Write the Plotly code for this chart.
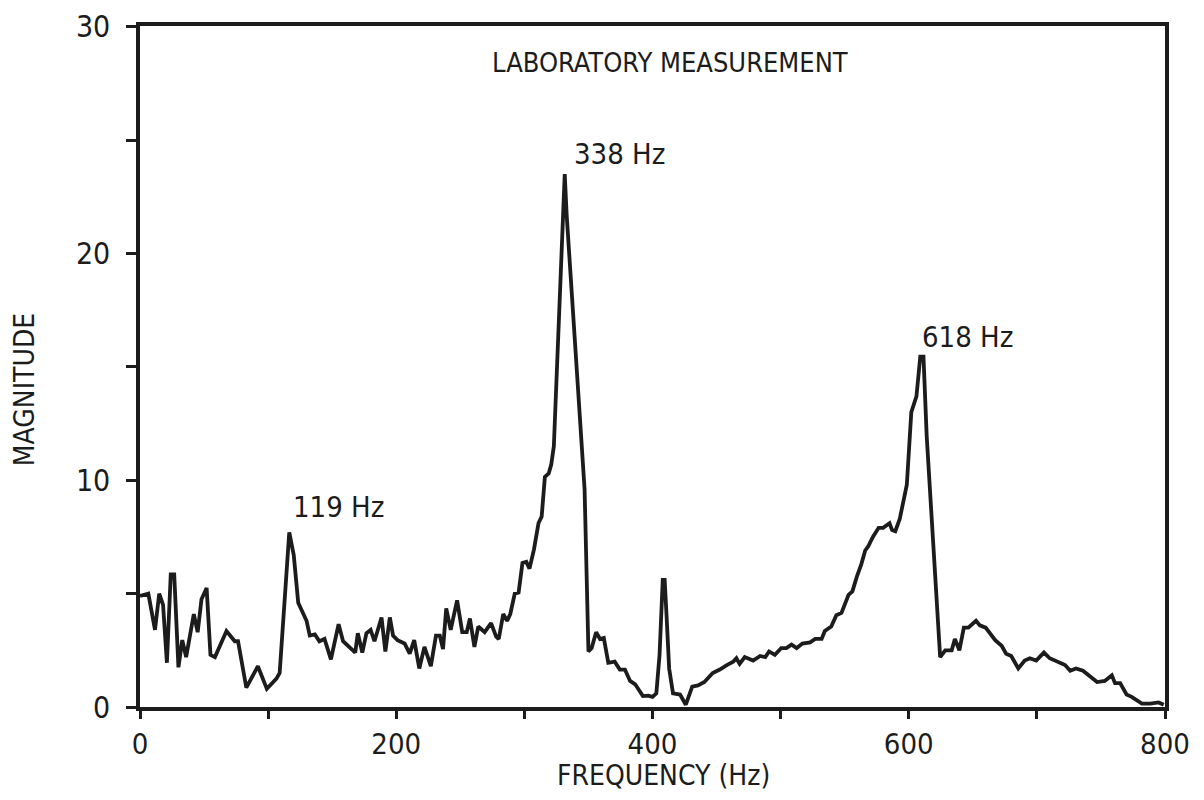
import plotly.graph_objects as go

# Frequency (Hz) and magnitude
freq = [0, 6.5, 11.7, 15, 18, 21, 24, 26.7, 30, 33, 36, 42, 45, 48, 52, 55, 58.5, 67.5, 74, 76.5,
        83, 92, 99, 106.5, 109, 116.5, 120, 123.5, 130, 132.5, 136.5, 140, 144, 149, 155, 158.5,
        168, 170, 173.5, 176.7, 180, 183, 188.5, 191.5, 195, 197.5, 201, 206.5, 210.5, 214, 218,
        222, 227, 231, 234, 236.5, 239, 242.5, 247.5, 251.5, 255, 257.5, 261, 264, 269, 274, 278,
        280, 283.5, 286.5, 289, 292.5, 295.5, 298.5, 301.5, 304, 307.5, 311, 313.5, 316, 319, 321,
        323, 331.5, 333, 343.5, 347, 350, 352.5, 356, 359, 362, 365.5, 370.5, 374.5, 378.5, 382.5,
        386.5, 389.5, 392.5, 396.5, 400, 403, 405.5, 408, 409.5, 411, 413, 416, 421.5, 426, 431,
        435.5, 440.5, 447, 452.5, 458, 463, 465.5, 468, 472, 478.5, 484, 488, 491, 495.5, 500.5,
        504.5, 508.5, 512.5, 517, 523, 527, 532, 534.5, 539.5, 543.5, 547.5, 553, 556, 559.5, 563,
        566, 568.5, 572, 576.5, 580, 585, 587, 589.5, 593, 598.5, 602, 606, 609, 611.5, 614, 624.5,
        628.5, 633.5, 636, 639.5, 643, 646.5, 652.5, 655.5, 660, 667.5, 672.5, 676, 680, 685.5,
        690.5, 694.5, 699.5, 705.5, 710, 715.5, 722, 726, 730.5, 736, 741.5, 747, 753, 758.5, 761,
        765, 770, 774, 782, 788.5, 795, 799]
magnitude = [4.9, 5.0, 3.4, 5.0, 4.5, 1.95, 5.85, 5.85, 1.75, 2.95, 2.2, 4.1, 3.3, 4.75, 5.25, 2.3,
             2.2, 3.35, 2.9, 2.9, 0.85, 1.8, 0.8, 1.25, 1.5, 7.7, 6.7, 4.6, 3.8, 3.15, 3.2, 2.9, 3.0,
             2.1, 3.65, 2.9, 2.4, 3.25, 2.4, 3.25, 3.4, 2.9, 3.95, 2.45, 3.95, 3.15, 2.95, 2.8, 2.35,
             2.95, 1.7, 2.65, 1.8, 3.15, 3.15, 2.55, 4.35, 3.4, 4.7, 3.3, 3.3, 3.9, 2.65, 3.55, 3.3,
             3.7, 3.1, 3.0, 4.1, 3.8, 4.1, 5.0, 5.05, 6.35, 6.4, 6.1, 6.95, 8.1, 8.4, 10.15, 10.3,
             10.7, 11.5, 23.5, 21.7, 12.3, 9.6, 2.45, 2.6, 3.3, 3.0, 3.05, 1.95, 2.0, 1.65, 1.65,
             1.15, 1.0, 0.75, 0.48, 0.5, 0.45, 0.6, 2.3, 5.6, 5.6, 4.0, 1.7, 0.6, 0.55, 0.1, 0.9,
             0.95, 1.1, 1.5, 1.65, 1.85, 2.0, 2.15, 1.9, 2.2, 2.05, 2.25, 2.2, 2.45, 2.3, 2.6, 2.6,
             2.75, 2.6, 2.8, 2.85, 3.0, 3.0, 3.35, 3.55, 4.05, 4.15, 4.95, 5.1, 5.75, 6.3, 6.9, 7.1,
             7.5, 7.9, 7.9, 8.1, 7.8, 7.75, 8.3, 9.8, 13.0, 13.7, 15.45, 15.45, 11.95, 2.2, 2.5, 2.5,
             3.0, 2.5, 3.5, 3.5, 3.8, 3.6, 3.5, 2.95, 2.7, 2.35, 2.25, 1.7, 2.05, 2.15, 2.05, 2.4,
             2.15, 2.0, 1.85, 1.6, 1.7, 1.6, 1.35, 1.1, 1.15, 1.4, 1.05, 1.05, 0.55, 0.45, 0.15,
             0.15, 0.2, 0.1]

x_tickvals = [0, 100, 200, 300, 400, 500, 600, 700, 800]
x_ticktext = ["0", "", "200", "", "400", "", "600", "", "800"]
y_tickvals = [0, 5, 10, 15, 20, 25, 30]
y_ticktext = ["0", "", "10", "", "20", "", "30"]

peak_labels = ["119 Hz", "338 Hz", "618 Hz"]
peak_label_x = [118, 337, 608.5]
peak_label_y = [8.8, 24.4, 16.3]

FONT = "DejaVu Sans Condensed, Liberation Sans Narrow, Arial Narrow, sans-serif"
INK = "#1c1c1c"

fig = go.Figure()
fig.add_trace(go.Scatter(x=freq, y=magnitude, mode="lines",
                         line=dict(color=INK, width=3.8), showlegend=False))

annotations = []
for t, ax, ay in zip(peak_labels, peak_label_x, peak_label_y):
    annotations.append(dict(x=ax, y=ay, text=t, showarrow=False, xanchor="left", yanchor="middle",
                            font=dict(family=FONT, size=29, color=INK)))
annotations.append(dict(x=273, y=28.4, text="LABORATORY MEASUREMENT", showarrow=False,
                        xanchor="left", yanchor="middle",
                        font=dict(family=FONT, size=27, color=INK)))
annotations.append(dict(x=-0.112, y=0.4655, xref="paper", yref="paper", text="MAGNITUDE",
                        showarrow=False, textangle=-90, xanchor="center", yanchor="middle",
                        font=dict(family=FONT, size=28, color=INK)))
annotations.append(dict(x=0.511, y=-0.1013, xref="paper", yref="paper", text="FREQUENCY (Hz)",
                        showarrow=False, xanchor="center", yanchor="middle",
                        font=dict(family=FONT, size=28, color=INK)))

fig.update_layout(
    width=1204, height=800,
    margin=dict(l=132, r=47, t=18, b=101, autoexpand=False),
    paper_bgcolor="white", plot_bgcolor="white",
    font=dict(family=FONT, color=INK),
    annotations=annotations,
    xaxis=dict(range=[0, 800], tickvals=x_tickvals, ticktext=x_ticktext,
               showgrid=False, zeroline=False, showline=True, mirror=True,
               linecolor=INK, linewidth=3.5, ticks="outside", ticklen=8, tickwidth=2.5,
               tickcolor=INK, tickfont=dict(family=FONT, size=29, color=INK),
               ticklabeloverflow="allow", automargin=False),
    yaxis=dict(range=[0, 30.03], tickvals=y_tickvals, ticktext=y_ticktext,
               showgrid=False, zeroline=False, showline=True, mirror=True,
               linecolor=INK, linewidth=3.5, ticks="outside", ticklen=10, tickwidth=2.5,
               tickcolor=INK, tickfont=dict(family=FONT, size=30, color=INK),
               ticklabelstandoff=10, ticklabeloverflow="allow", automargin=False),
)

fig.write_html("out.html")
